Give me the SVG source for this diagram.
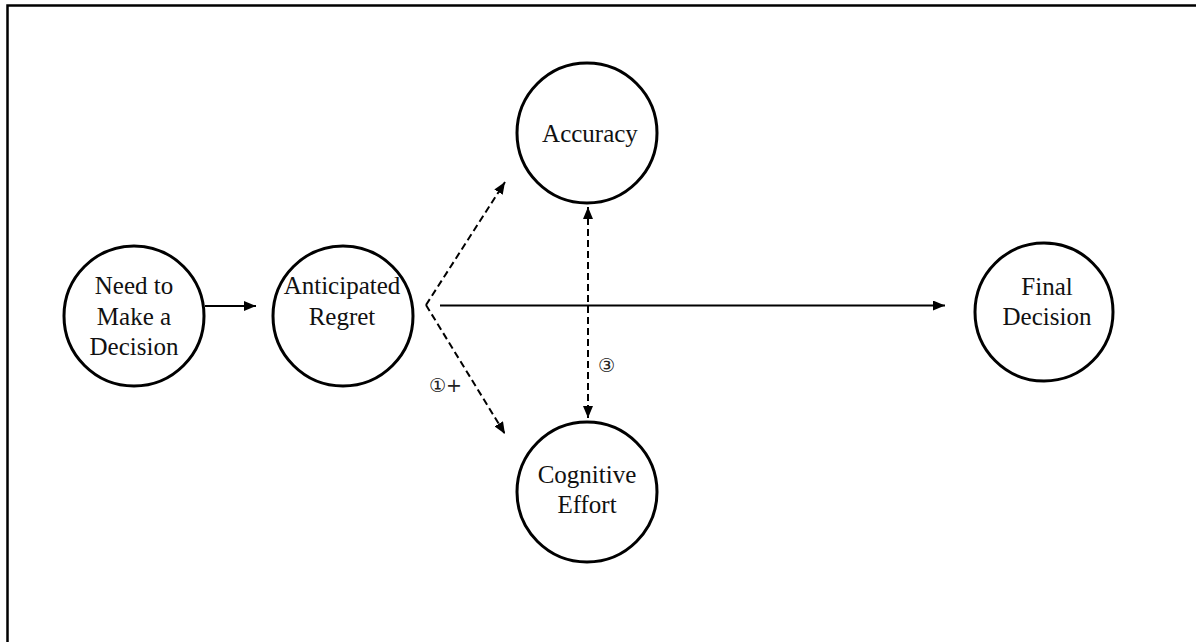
<svg xmlns="http://www.w3.org/2000/svg" width="1196" height="642" viewBox="0 0 1196 642">
<style>
.node{fill:#fff;stroke:#000;stroke-width:3}
.t{font-family:"Liberation Serif","Times New Roman",serif;font-size:25px;fill:#111;text-anchor:middle}
.lbl{font-family:"DejaVu Sans","Liberation Sans",sans-serif;font-size:19px;fill:#222}
.solid{stroke:#000;stroke-width:2;fill:none}
.dash{stroke:#000;stroke-width:2;fill:none;stroke-dasharray:7 4}
</style>
<defs>
<marker id="ah" markerUnits="userSpaceOnUse" viewBox="0 0 12 10" refX="12" refY="5" markerWidth="12" markerHeight="10" orient="auto-start-reverse">
<path d="M0,0 L12,5 L0,10 z" fill="#000"/>
</marker>
</defs>
<rect width="1196" height="642" fill="#fff"/>
<path d="M7.5,642 V5.5 H1196" fill="none" stroke="#000" stroke-width="2.5"/>
<g id="connectors">
<line class="solid" x1="205" y1="306" x2="256" y2="306" marker-end="url(#ah)"/>
<line class="solid" x1="440" y1="305.5" x2="945" y2="305.5" marker-end="url(#ah)"/>
<line class="dash" x1="426" y1="305" x2="505" y2="182" marker-end="url(#ah)"/>
<line class="dash" x1="426" y1="305" x2="505" y2="434" marker-end="url(#ah)"/>
<line class="dash" x1="588" y1="207" x2="588" y2="418" marker-start="url(#ah)" marker-end="url(#ah)"/>
<text class="lbl" x="429" y="392">①+</text>
<text class="lbl" x="598" y="372">③</text>
</g>
<g id="need">
<circle class="node" cx="134" cy="316" r="70"/>
<text class="t" x="134" y="294">Need to</text>
<text class="t" x="134" y="324.5">Make a</text>
<text class="t" x="134" y="355">Decision</text>
</g>
<g id="regret">
<circle class="node" cx="343" cy="316" r="70"/>
<text class="t" x="342" y="294">Anticipated</text>
<text class="t" x="342" y="324.5">Regret</text>
</g>
<g id="accuracy">
<circle class="node" cx="587" cy="133" r="70"/>
<text class="t" x="590" y="142">Accuracy</text>
</g>
<g id="effort">
<circle class="node" cx="587" cy="492" r="70"/>
<text class="t" x="587" y="483">Cognitive</text>
<text class="t" x="587" y="513">Effort</text>
</g>
<g id="final">
<circle class="node" cx="1044" cy="312" r="69"/>
<text class="t" x="1047" y="295">Final</text>
<text class="t" x="1047" y="324.5">Decision</text>
</g>
</svg>
